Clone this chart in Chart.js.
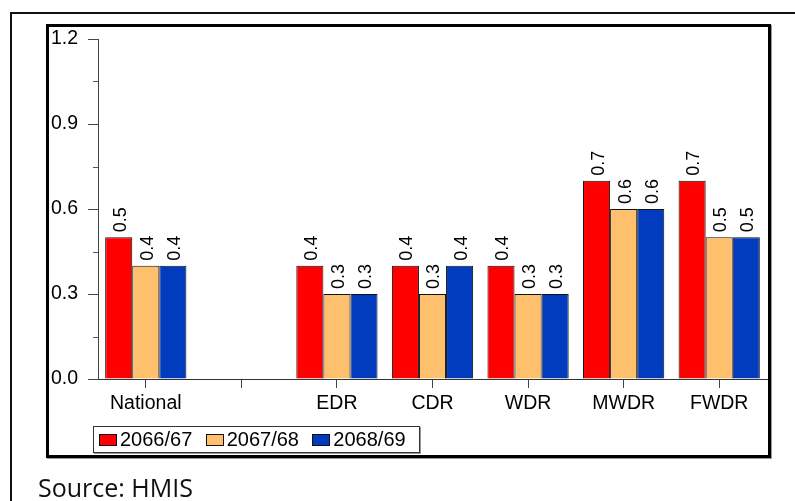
<!DOCTYPE html>
<html>
<head>
<meta charset="utf-8">
<script src="https://cdn.jsdelivr.net/npm/chart.js@4/dist/chart.umd.min.js"></script>
<style>
  html, body { margin: 0; padding: 0; background: #fff; }
  body { width: 795px; height: 501px; position: relative; overflow: hidden; }
  #outer { position: absolute; left: 10px; top: 12px; width: 800px; height: 500px;
           border-left: 2px solid #111; border-top: 2px solid #111; }
  #frame { position: absolute; left: 46px; top: 24px; width: 719px; height: 428px;
           border: 3px solid #000; box-shadow: 1px 1px 0 #999; }
  #chart { position: absolute; left: 0; top: 0; }
  #legend { position: absolute; left: 93px; top: 426px; width: 320px; height: 25px;
            border: 1px solid #333; box-shadow: 1px 1px 0 #999; background: #fff;
            display: flex; align-items: center; padding-left: 5px; box-sizing: content-box;
            font-family: "Liberation Sans", Arial, sans-serif; font-size: 20px; color: #000; }
  .item { display: flex; align-items: center; width: 107.5px; }
  .sw { width: 16px; height: 10px; border: 1px solid #111; margin-right: 3px; }
  #source { position: absolute; left: 38px; top: 475px; font-family: "Open Sans", sans-serif;
            font-size: 25px; line-height: 25px; color: #111; white-space: nowrap; }
</style>
</head>
<body>
<div id="outer"></div>
<div id="frame"></div>
<canvas id="chart" width="795" height="501"></canvas>
<div id="legend"></div>
<div id="source">Source: HMIS</div>
<script>
// Regions (the empty slot separates the national figure from the regions)
const categories = ["National", "", "EDR", "CDR", "WDR", "MWDR", "FWDR"];
const fiscalYears = ["2066/67", "2067/68", "2068/69"];
const values2066 = [0.5, null, 0.4, 0.4, 0.4, 0.7, 0.7];
const values2067 = [0.4, null, 0.3, 0.3, 0.3, 0.6, 0.5];
const values2068 = [0.4, null, 0.3, 0.4, 0.3, 0.6, 0.5];
const yTicks = [0.0, 0.3, 0.6, 0.9, 1.2];
const yMinorTicks = [0.15, 0.45, 0.75, 1.05];
const colors = ["#ff0000", "#ffc06d", "#003cbd"];

const FONT = "'Liberation Sans', Arial, sans-serif";
const seriesValues = [values2066, values2067, values2068];

// Rotated value labels above each bar
const valueLabels = {
  id: "valueLabels",
  afterDatasetsDraw(chart) {
    const ctx = chart.ctx;
    ctx.save();
    ctx.font = "18px " + FONT;
    ctx.fillStyle = "#000";
    ctx.textAlign = "left";
    ctx.textBaseline = "middle";
    chart.data.datasets.forEach((ds, di) => {
      chart.getDatasetMeta(di).data.forEach((bar, i) => {
        const v = ds.data[i];
        if (v === null || v === undefined) return;
        ctx.save();
        ctx.translate(bar.x + 2, bar.y - 5);
        ctx.rotate(-Math.PI / 2);
        ctx.fillText(v.toFixed(1), 0, 0);
        ctx.restore();
      });
    });
    ctx.restore();
  }
};

// Short minor ticks on the value axis
const minorTicks = {
  id: "minorTicks",
  afterDraw(chart) {
    const y = chart.scales.y;
    const ctx = chart.ctx;
    ctx.save();
    ctx.strokeStyle = "#555";
    ctx.lineWidth = 1;
    yMinorTicks.forEach(v => {
      const py = Math.round(y.getPixelForValue(v)) + 0.5;
      ctx.beginPath();
      ctx.moveTo(y.right - 5, py);
      ctx.lineTo(y.right, py);
      ctx.stroke();
    });
    ctx.restore();
  }
};

const chart = new Chart(document.getElementById("chart"), {
  type: "bar",
  data: {
    labels: categories,
    datasets: fiscalYears.map((name, i) => ({
      label: name,
      data: seriesValues[i],
      backgroundColor: colors[i],
      borderColor: "#111",
      borderWidth: 1,
      borderSkipped: "start",
      categoryPercentage: 0.85,
      barPercentage: 1.0
    }))
  },
  options: {
    responsive: false,
    animation: false,
    devicePixelRatio: 1,
    layout: { padding: { left: 40, top: 39, right: 28, bottom: 82 } },
    plugins: { legend: { display: false }, tooltip: { enabled: false } },
    scales: {
      x: {
        grid: { display: true, drawOnChartArea: false, offset: false, tickLength: 9, color: "#444" },
        border: { display: true, color: "#333", width: 1 },
        ticks: { font: { family: FONT, size: 19.5 }, color: "#000", padding: 4, maxRotation: 0 },
        afterFit(scale) { scale.height = 40; }
      },
      y: {
        min: 0,
        max: 1.2,
        afterBuildTicks(scale) { scale.ticks = yTicks.map(v => ({ value: v })); },
        grid: { display: true, drawOnChartArea: false, tickLength: 10, color: "#444" },
        border: { display: true, color: "#444", width: 1 },
        ticks: {
          font: { family: FONT, size: 19.5 }, color: "#000", padding: 10,
          callback: v => Number(v).toFixed(1)
        },
        afterFit(scale) { scale.width = 58; }
      }
    }
  },
  plugins: [valueLabels, minorTicks]
});

// Legend built from the datasets
const legend = document.getElementById("legend");
chart.data.datasets.forEach(ds => {
  const item = document.createElement("div");
  item.className = "item";
  const sw = document.createElement("span");
  sw.className = "sw";
  sw.style.background = ds.backgroundColor;
  const txt = document.createElement("span");
  txt.textContent = ds.label;
  item.appendChild(sw);
  item.appendChild(txt);
  legend.appendChild(item);
});
</script>
</body>
</html>
